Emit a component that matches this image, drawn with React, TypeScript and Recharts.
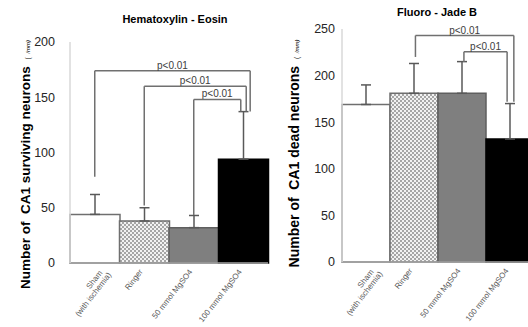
import { BarChart, Bar, XAxis, YAxis, Cell, ErrorBar, ReferenceLine, Label } from 'recharts';

const categories = ['Sham', 'Ringer', '50 mmol MgSO4', '100 mmol MgSO4'];
const shamNote = '(with ischemia)';

// Hematoxylin - Eosin: CA1 surviving neurons (/mm)
const heMeans = [44, 38, 32, 94];
const heErrors = [18, 12, 11, 43];
const heTicks = [0, 50, 100, 150, 200];

// Fluoro - Jade B: CA1 dead neurons (/mm)
const fjMeans = [169, 181, 181, 132];
const fjErrors = [21, 32, 34, 38];
const fjTicks = [0, 50, 100, 150, 200, 250];

// significance brackets, x in category units (0..4), y in data units
const heBrackets = [
  { x1: 0.5, x2: 3.64, y: 174, end1: 78, end2: 137 },
  { x1: 1.5, x2: 3.56, y: 160, end1: 52, end2: 137 },
  { x1: 2.5, x2: 3.45, y: 148, end1: 43.5, end2: 137 },
];
const fjBrackets = [
  { x1: 1.53, x2: 3.58, y: 243, end1: 220, end2: 172 },
  { x1: 2.54, x2: 3.44, y: 225.5, end1: 214.5, end2: 172 },
];

const FONT = '"Liberation Sans", Arial, sans-serif';
const BAR_STROKE = ['#6f6f6f', '#6f6f6f', '#5f5f5f', '#000000'];
const BRACKET = '#707070';

type Bracket = { x1: number; x2: number; y: number; end1: number; end2: number };

function CategoryTick({ x, y, payload }: any) {
  const name = payload.value;
  const style = { fontSize: 8, fill: '#595959', fontFamily: FONT };
  if (name === 'Sham') {
    return (
      <g>
        <text transform={`translate(${x + 8},${y + 10}) rotate(-52)`} textAnchor="end" {...style}>
          {name}
        </text>
        <text transform={`translate(${x + 17},${y + 12}) rotate(-52)`} textAnchor="end" {...style}>
          {shamNote}
        </text>
      </g>
    );
  }
  return (
    <text transform={`translate(${x - 1},${y + 9}) rotate(-52)`} textAnchor="end" {...style}>
      {name}
    </text>
  );
}

function bracketLines(list: Bracket[], prefix: string) {
  return list.flatMap((b, i) => [
    <ReferenceLine
      key={`${prefix}-h${i}`}
      xAxisId="n"
      segment={[{ x: b.x1, y: b.y }, { x: b.x2, y: b.y }]}
      stroke={BRACKET}
      strokeWidth={1.5}
      label={{ value: 'p<0.01', position: 'top', offset: 2, fontSize: 10, fill: '#404040', fontFamily: FONT }}
    />,
    <ReferenceLine
      key={`${prefix}-l${i}`}
      xAxisId="n"
      segment={[{ x: b.x1, y: b.y }, { x: b.x1, y: b.end1 }]}
      stroke={BRACKET}
      strokeWidth={1.5}
    />,
    <ReferenceLine
      key={`${prefix}-r${i}`}
      xAxisId="n"
      segment={[{ x: b.x2, y: b.y }, { x: b.x2, y: b.end2 }]}
      stroke={BRACKET}
      strokeWidth={1.5}
    />,
  ]);
}

function yTitle(main: string, dx: number, dy: number, size: number) {
  return ({ viewBox }: any) => {
    const cx = viewBox.x + dx;
    const cy = viewBox.y + viewBox.height / 2 + dy;
    return (
      <text
        transform={`translate(${cx},${cy}) rotate(-90)`}
        textAnchor="middle"
        fontFamily={FONT}
        fontWeight="bold"
        fontSize={size}
        fill="#000"
        style={{ whiteSpace: 'pre' }}
      >
        {main}
        <tspan fontSize={6.5} fontWeight="normal" dx={3}>(  </tspan>
        <tspan fontSize={6} fontWeight="normal" fontStyle="italic">/mm)</tspan>
      </text>
    );
  };
}

function Panel({
  means,
  errors,
  ticks,
  brackets,
  id,
  width,
  top,
  plotHeight,
  axisWidth,
  tickGap,
  label,
  labelDx,
  labelDy,
  labelSize,
}: any) {
  const data = categories.map((name, i) => ({
    name,
    pos: i + 0.5,
    value: means[i],
    err: [0, errors[i]],
  }));
  const fills = ['#ffffff', `url(#${id}-check)`, '#7f7f7f', '#000000'];
  return (
    <BarChart
      width={width}
      height={327}
      data={data}
      margin={{ top, right: 2, left: 0, bottom: 0 }}
      barCategoryGap={0}
    >
      <defs>
        <pattern id={`${id}-check`} width={4} height={4} patternUnits="userSpaceOnUse">
          <rect width={4} height={4} fill="#f2f2f2" />
          <rect width={2} height={2} fill="#a6a6a6" />
          <rect x={2} y={2} width={2} height={2} fill="#a6a6a6" />
        </pattern>
      </defs>
      <XAxis
        dataKey="name"
        interval={0}
        height={327 - top - plotHeight}
        tickSize={0}
        tickMargin={0}
        tick={<CategoryTick />}
        axisLine={{ stroke: '#a6a6a6', strokeWidth: 1.5 }}
        tickLine={false}
      />
      <XAxis xAxisId="n" dataKey="pos" type="number" domain={[0, 4]} allowDataOverflow hide />
      <YAxis
        domain={[0, ticks[ticks.length - 1]]}
        ticks={ticks}
        width={axisWidth}
        tickSize={0}
        tickMargin={tickGap}
        tickLine={false}
        axisLine={{ stroke: '#d9d9d9', strokeWidth: 1.5 }}
        tick={{ fontSize: 12.5, fill: '#262626', fontFamily: FONT }}
      >
        <Label content={yTitle(label, labelDx, labelDy, labelSize)} />
      </YAxis>
      <Bar dataKey="value" isAnimationActive={false} strokeWidth={1.5}>
        {data.map((d, i) => (
          <Cell key={d.name} fill={fills[i]} stroke={BAR_STROKE[i]} />
        ))}
        <ErrorBar dataKey="err" direction="y" width={5} stroke="#595959" strokeWidth={1.5} />
      </Bar>
      {bracketLines(brackets, id)}
    </BarChart>
  );
}

export default function App() {
  return (
    <div
      style={{
        position: 'absolute',
        left: 0,
        top: 0,
        width: 528,
        height: 327,
        overflow: 'hidden',
        background: '#fff',
        fontFamily: FONT,
      }}
    >
      <div style={{ position: 'absolute', left: 0, top: 0 }}>
        <Panel
          id="he"
          means={heMeans}
          errors={heErrors}
          ticks={heTicks}
          brackets={heBrackets}
          width={270}
          top={42}
          plotHeight={221}
          axisWidth={70}
          tickGap={15}
          label="Number of  CA1 surviving neurons "
          labelDx={30}
          labelDy={12}
          labelSize={13.5}
        />
      </div>
      <div style={{ position: 'absolute', left: 264, top: 0 }}>
        <Panel
          id="fj"
          means={fjMeans}
          errors={fjErrors}
          ticks={fjTicks}
          brackets={fjBrackets}
          width={272}
          top={29}
          plotHeight={233}
          axisWidth={78}
          tickGap={7}
          label="Number of  CA1 dead neurons "
          labelDx={35}
          labelDy={8}
          labelSize={14}
        />
      </div>
      <div
        style={{
          position: 'absolute',
          left: 95,
          top: 12,
          width: 160,
          textAlign: 'center',
          fontSize: 11,
          fontWeight: 'bold',
          lineHeight: '14px',
        }}
      >
        Hematoxylin - Eosin
      </div>
      <div
        style={{
          position: 'absolute',
          left: 357,
          top: 5,
          width: 160,
          textAlign: 'center',
          fontSize: 11,
          fontWeight: 'bold',
          lineHeight: '14px',
        }}
      >
        Fluoro - Jade B
      </div>
    </div>
  );
}
